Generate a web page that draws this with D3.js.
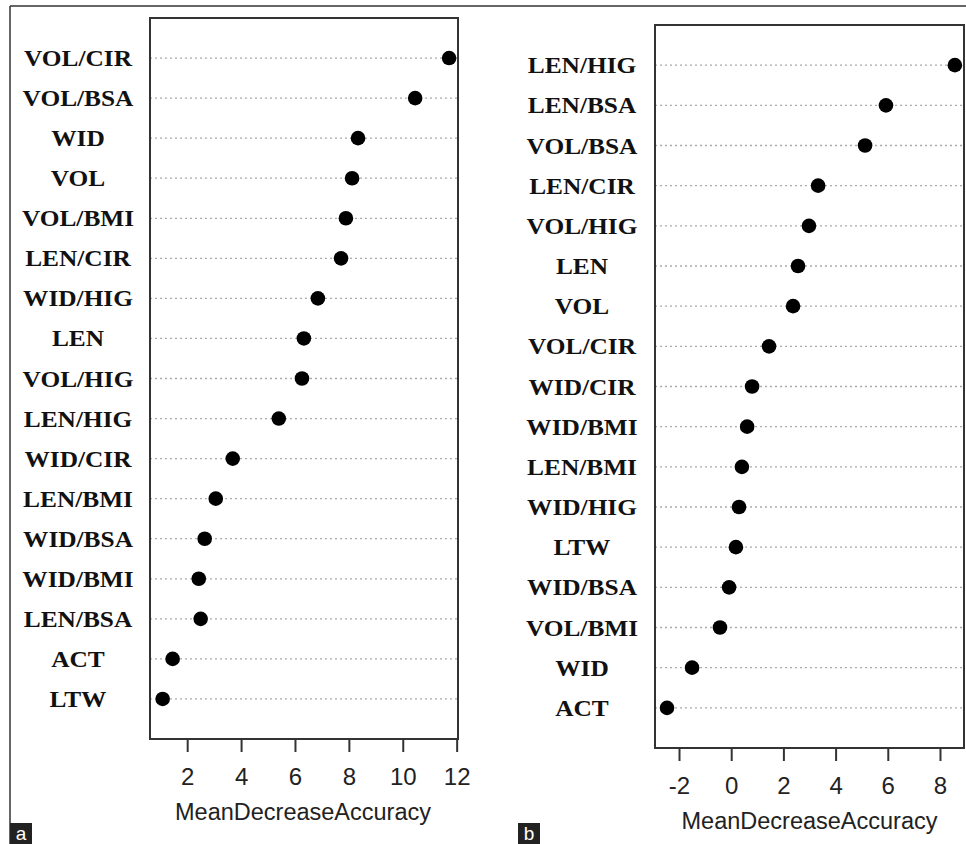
<!DOCTYPE html>
<html>
<head>
<meta charset="utf-8">
<script src="https://cdn.jsdelivr.net/npm/d3@7"></script>
<style>
  body { margin: 0; background: #fff; }
  svg { display: block; }
</style>
</head>
<body>
<svg id="chart" width="966" height="844"></svg>
<script>
// panel a
const labelsA = ["VOL/CIR", "VOL/BSA", "WID", "VOL", "VOL/BMI", "LEN/CIR", "WID/HIG", "LEN",
  "VOL/HIG", "LEN/HIG", "WID/CIR", "LEN/BMI", "WID/BSA", "WID/BMI", "LEN/BSA", "ACT", "LTW"];
const valuesA = [11.72, 10.46, 8.34, 8.12, 7.89, 7.71, 6.85, 6.33,
  6.26, 5.40, 3.69, 3.06, 2.65, 2.43, 2.50, 1.46, 1.09];
const ticksA = [2, 4, 6, 8, 10, 12];

// panel b
const labelsB = ["LEN/HIG", "LEN/BSA", "VOL/BSA", "LEN/CIR", "VOL/HIG", "LEN", "VOL", "VOL/CIR",
  "WID/CIR", "WID/BMI", "LEN/BMI", "WID/HIG", "LTW", "WID/BSA", "VOL/BMI", "WID", "ACT"];
const valuesB = [8.57, 5.93, 5.13, 3.33, 2.98, 2.56, 2.37, 1.45,
  0.80, 0.61, 0.41, 0.30, 0.18, -0.08, -0.43, -1.50, -2.46];
const ticksB = [-2, 0, 2, 4, 6, 8];

const axisTitle = "MeanDecreaseAccuracy";

const svg = d3.select("#chart");

// outer frame of the figure (top + left edge only, like the cropped image)
svg.append("line").attr("x1", 10).attr("x2", 966).attr("y1", 6).attr("y2", 6)
  .attr("stroke", "#333").attr("stroke-width", 1.5);
svg.append("line").attr("x1", 10).attr("x2", 10).attr("y1", 6).attr("y2", 844)
  .attr("stroke", "#333").attr("stroke-width", 1.5);

function dotPanel(opts) {
  const n = opts.labels.length;
  const x = d3.scaleLinear().domain(opts.xDomain).range([opts.left, opts.right]);
  // R dotchart style: rows 1..n, limits 0..n+1
  const y = d3.scaleLinear().domain([0, n + 1]).range([opts.bottom, opts.top]);
  const g = svg.append("g");

  const rows = opts.labels.map((d, i) => ({ label: d, value: opts.values[i], row: n - i }));

  // dotted guide lines
  g.selectAll("line.guide").data(rows).join("line")
    .attr("class", "guide")
    .attr("x1", opts.left).attr("x2", opts.right)
    .attr("y1", d => y(d.row)).attr("y2", d => y(d.row))
    .attr("stroke", "#aaa").attr("stroke-width", 1.3)
    .attr("stroke-dasharray", "2,3");

  g.selectAll("circle").data(rows).join("circle")
    .attr("cx", d => x(d.value)).attr("cy", d => y(d.row))
    .attr("r", 7.3).attr("fill", "#000");

  // box
  g.append("rect")
    .attr("x", opts.left).attr("y", opts.top)
    .attr("width", opts.right - opts.left).attr("height", opts.bottom - opts.top)
    .attr("fill", "none").attr("stroke", "#333").attr("stroke-width", 2);

  // row labels (centred in the margin, bold serif)
  g.selectAll("g.lab").data(rows).join("g")
    .attr("class", "lab")
    .attr("transform", d => "translate(" + opts.labelX + "," + (y(d.row) + 8) + ") scale(1.08,1)")
    .append("text")
    .attr("text-anchor", "middle")
    .attr("font-family", "'Liberation Serif', 'Times New Roman', serif")
    .attr("font-weight", "bold")
    .attr("font-size", 23.5)
    .attr("fill", "#111")
    .text(d => d.label);

  // plain hyphen for negatives, as in the original
  const axis = d3.axisBottom(x).tickValues(opts.ticks).tickSize(13).tickPadding(16)
    .tickFormat(d => String(d));
  const ax = g.append("g").attr("transform", "translate(0," + opts.bottom + ")").call(axis);
  ax.select(".domain").remove();
  ax.selectAll(".tick line").attr("stroke", "#333").attr("stroke-width", 2);
  ax.selectAll(".tick text")
    .attr("font-family", "'Liberation Sans', Arial, sans-serif")
    .attr("font-size", 24).attr("fill", "#222");

  g.append("text")
    .attr("x", (opts.left + opts.right) / 2 + opts.titleShift).attr("y", opts.bottom + 81)
    .attr("text-anchor", "middle")
    .attr("font-family", "'Liberation Sans', Arial, sans-serif")
    .attr("font-size", 23.5).attr("fill", "#222")
    .text(axisTitle);

  // panel letter
  g.append("rect").attr("x", opts.tagX).attr("y", 823).attr("width", 22).attr("height", 21)
    .attr("fill", "#222");
  g.append("text").attr("x", opts.tagX + 11).attr("y", 840)
    .attr("text-anchor", "middle")
    .attr("font-family", "'Liberation Sans', Arial, sans-serif")
    .attr("font-size", 19).attr("fill", "#fff")
    .text(opts.tag);
}

dotPanel({
  labels: labelsA, values: valuesA, ticks: ticksA,
  xDomain: [0.62, 12.05], left: 150, right: 458, top: 18, bottom: 739,
  labelX: 78, titleShift: -1, tagX: 10, tag: "a"
});

dotPanel({
  labels: labelsB, values: valuesB, ticks: ticksB,
  xDomain: [-2.92, 8.92], left: 655, right: 964, top: 25, bottom: 748,
  labelX: 582, titleShift: 0, tagX: 518, tag: "b"
});
</script>
</body>
</html>
